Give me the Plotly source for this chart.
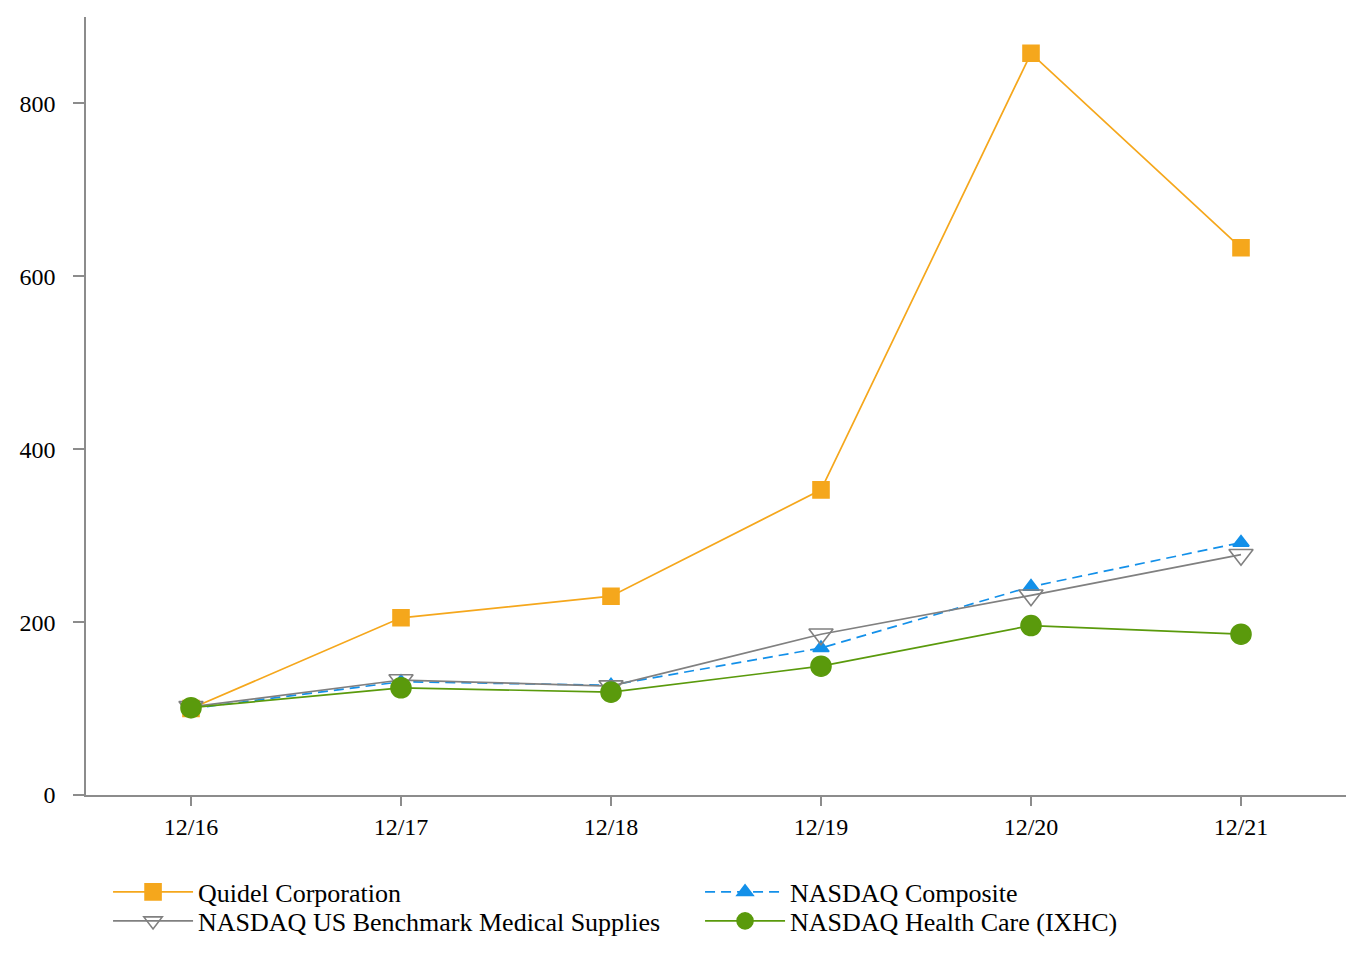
import plotly.graph_objects as go

categories = ["12/16", "12/17", "12/18", "12/19", "12/20", "12/21"]
quidel = [100, 205, 230, 353, 858, 633]
nasdaq_composite = [100, 131, 127, 170, 241, 292]
med_supplies = [102, 133, 126, 186, 231, 278]
health_care = [101, 124, 119, 149, 196, 186]
y_ticks = [0, 200, 400, 600, 800]

series = [
    ("Quidel Corporation", quidel, "#F5A71C", "solid", "square", 16, "legend"),
    ("NASDAQ Composite", nasdaq_composite, "#1390E9", "10px,6px", "triangle-up", 14, "legend"),
    ("NASDAQ US Benchmark Medical Supplies", med_supplies, "#808080", "solid", "triangle-down-open", 21, "legend2"),
    ("NASDAQ Health Care (IXHC)", health_care, "#5A9A0C", "solid", "circle", 20, "legend2"),
]

fig = go.Figure()
for name, vals, color, dash, sym, size, lg in series:
    fig.add_trace(go.Scatter(
        x=categories, y=vals, name=name, mode="lines+markers",
        line=dict(color=color, width=1.7, dash=dash),
        marker=dict(symbol=sym, size=size, color=color,
                    line=dict(color=color, width=1.6)),
        legend=lg,
    ))

font_family = "Liberation Serif, Times New Roman, serif"
legend_common = dict(orientation="h", xanchor="left", yanchor="middle",
                     entrywidth=497, entrywidthmode="pixels", itemwidth=80,
                     font=dict(family=font_family, size=26),
                     traceorder="normal", bgcolor="rgba(0,0,0,0)")
fig.update_layout(
    width=1352, height=952,
    margin=dict(l=78, r=14, t=9, b=165, autoexpand=False),
    paper_bgcolor="white", plot_bgcolor="white",
    font=dict(family=font_family, size=24, color="black"),
    showlegend=True,
    legend=dict(x=0.0175, y=-97 / 778, **legend_common),
    legend2=dict(x=0.0175, y=-126 / 778, **legend_common),
    xaxis=dict(type="category", range=[-0.5, 5.5], showgrid=False,
               showline=True, linecolor="#8c8c8c", linewidth=1.5,
               ticks="outside", ticklen=9, tickcolor="#8c8c8c", tickwidth=1.5,
               tickfont=dict(size=24), zeroline=False, ticklabelstandoff=0),
    yaxis=dict(range=[0, 900], tickvals=y_ticks, showgrid=False,
               showline=True, linecolor="#8c8c8c", linewidth=1.5,
               ticks="outside", ticklen=11, tickcolor="#8c8c8c", tickwidth=1.5,
               tickfont=dict(size=24), zeroline=False, ticklabelstandoff=13),
)

fig.write_html("out.html")
